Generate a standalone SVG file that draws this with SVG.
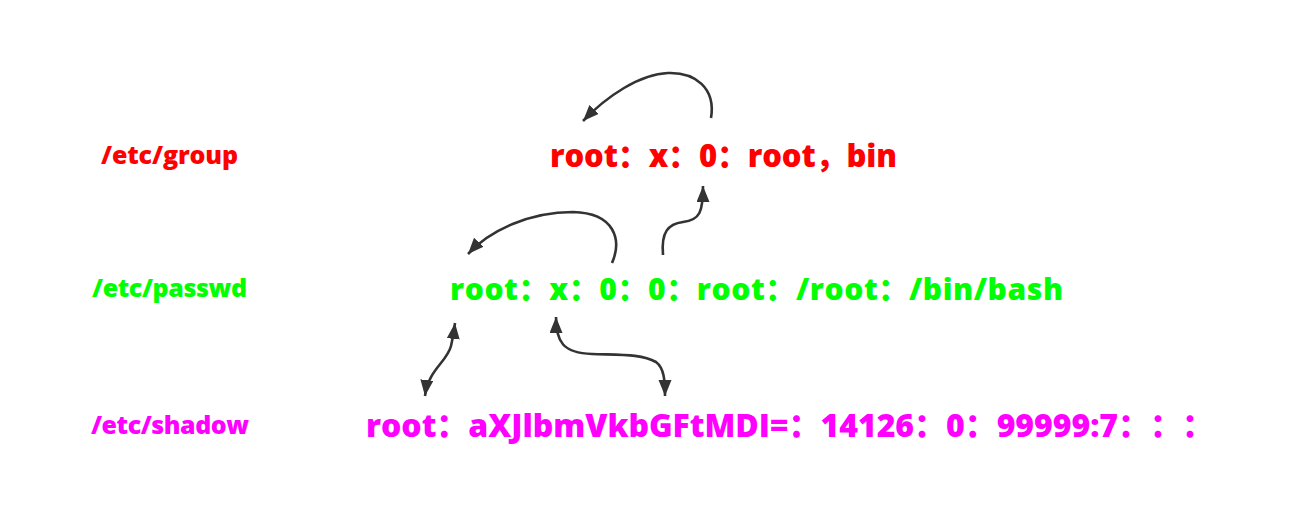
<svg xmlns="http://www.w3.org/2000/svg" width="1297" height="519" viewBox="0 0 1297 519">
<style>
.t{font-family:"Open Sans","Noto Sans CJK SC",sans-serif;font-weight:800;text-spacing-trim:space-all}
.red{fill:#FF0000}.green{fill:#00FF00}.mag{fill:#FF00FF}
.lbl{font-size:25px}
.c{fill:none;stroke:#333333;stroke-width:2.6;stroke-linecap:butt}
</style>
<defs>
<marker id="ah" markerUnits="userSpaceOnUse" markerWidth="18" markerHeight="14" refX="16" refY="6.5" orient="auto-start-reverse" viewBox="0 0 18 14">
<path d="M0,0 L16,6.5 L0,13 Z" fill="#333333"/>
</marker>
</defs>
<rect width="1297" height="519" fill="#FFFFFF"/>
<g id="label-group"><text class="t lbl red" x="101" y="164" textLength="137" lengthAdjust="spacing">/etc/group</text></g>
<g id="label-passwd"><text class="t lbl green" x="92" y="297" textLength="155" lengthAdjust="spacing">/etc/passwd</text></g>
<g id="label-shadow"><text class="t lbl mag" x="91" y="434" textLength="158" lengthAdjust="spacing">/etc/shadow</text></g>
<g id="line-group"><text class="t red" style="font-size:31px" x="550" y="167" textLength="347" lengthAdjust="spacing">root：x：0：root，bin</text></g>
<g id="line-passwd"><text class="t green" style="font-size:30px" x="450" y="300" textLength="613" lengthAdjust="spacing">root：x：0：0：root：/root：/bin/bash</text></g>
<g id="line-shadow"><text class="t mag" style="font-size:32px" x="366" y="437" textLength="848" lengthAdjust="spacing">root：aXJlbmVkbGFtMDI=：14126：0：99999:7：：：</text></g>
<g id="connectors">
<path class="c" d="M711,118 C716,88 695,72 668,73 C640,74 607,96 583,121" marker-end="url(#ah)"/>
<path class="c" d="M612,263 C622,240 615,213 573,212 C530,212 490,230 468,254" marker-end="url(#ah)"/>
<path class="c" d="M663,255 C661,232 668,224 683,222 C700,220 703,212 703,186" marker-end="url(#ah)"/>
<path class="c" d="M425,396 C428,370 447,362 451,346 C453,338 454,332 455,323" marker-start="url(#ah)" marker-end="url(#ah)"/>
<path class="c" d="M556,317 C556,342 563,353 592,354 C622,355 642,354 656,362 C664,368 665,380 665,396" marker-start="url(#ah)" marker-end="url(#ah)"/>
</g>
</svg>
